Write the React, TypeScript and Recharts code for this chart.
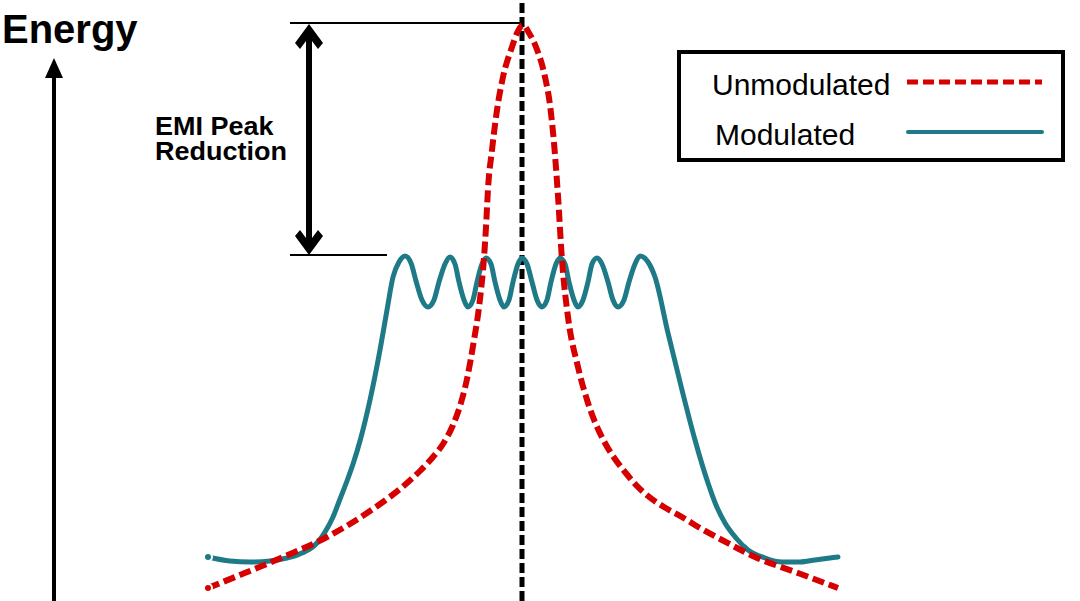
import React from 'react';
import { ComposedChart, Line, XAxis, YAxis, ReferenceLine, Legend } from 'recharts';

// frequency positions and energy readings for the unmodulated clock spectrum
const unmodFreq = [208, 240, 283, 327, 367, 407, 420, 433, 443, 453, 460, 467, 473, 480, 484, 486, 488, 492, 497, 503, 512, 517, 523, 529, 536, 545, 550, 554, 558, 562, 568, 578, 588, 605, 615, 625, 636, 648, 664, 682, 700, 722, 755, 798, 838];
const unmodEnergy = [13, 26, 44, 64, 88, 118, 130, 144, 157, 176, 195, 222, 255, 302, 343, 374, 412, 451, 491, 524, 554, 568, 576, 568, 554, 524, 496, 458, 405, 341, 284, 234, 198, 158, 142, 129, 116, 105, 94, 84, 73, 61, 44, 28, 13];

// spread-spectrum (modulated) readings
const modFreq = [208, 230, 250, 270, 287, 295, 302, 310, 317, 325, 333, 340, 347, 354, 360, 370, 380, 387, 393, 399, 405, 411, 416, 422, 428, 434, 439, 445, 450, 455, 459, 464, 468, 473, 477, 482, 486, 491, 495, 500, 504, 509, 513, 518, 522, 527, 532, 537, 542, 547, 551, 556, 560, 565, 569, 574, 578, 583, 588, 592, 597, 602, 608, 613, 618, 624, 629, 635, 640, 648, 655, 668, 682, 695, 708, 716, 725, 736, 748, 765, 782, 800, 815, 838];
const modEnergy = [44, 40, 39, 40, 43, 45, 48, 52, 58, 69, 84, 102, 120, 140, 160, 201, 251, 291, 324, 339, 345, 338, 320, 301, 294, 301, 319, 337, 344, 337, 319, 301, 294, 301, 319, 337, 343, 337, 319, 301, 294, 301, 319, 337, 343, 337, 319, 301, 294, 301, 319, 337, 343, 337, 319, 301, 294, 301, 319, 337, 343, 337, 319, 301, 294, 301, 319, 337, 345, 339, 324, 268, 211, 161, 118, 96, 78, 63, 51, 43, 39, 39, 41, 44];

const carrierFreq = 522;
const unmodPeak = 578;
const modPeak = 346;

const RED = '#d60000';
const TEAL = '#1d7a86';
const FONT = '"Liberation Sans", Arial, sans-serif';

const unmodData = unmodFreq.map((f, i) => ({ f, e: unmodEnergy[i] }));
const modData = modFreq.map((f, i) => ({ f, e: modEnergy[i] }));

const LegendBox = () => (
  <div style={{ width: 388, height: 112, border: '4px solid #000', boxSizing: 'border-box', background: '#fff' }}>
    <svg width={380} height={104} style={{ display: 'block' }}>
      <text x={31} y={41} fontFamily={FONT} fontSize={30} fill="#000">Unmodulated</text>
      <line x1={226} x2={361} y1={28} y2={28} stroke={RED} strokeWidth={5} strokeDasharray="11 5" />
      <text x={34} y={91} fontFamily={FONT} fontSize={30} fill="#000">Modulated</text>
      <line x1={227} x2={361} y1={78} y2={78} stroke={TEAL} strokeWidth={4} strokeLinecap="round" />
    </svg>
  </div>
);

const Annotations = () => (
  <svg width={1080} height={601} style={{ position: 'absolute', left: 0, top: 0, pointerEvents: 'none' }}>
    <text x={2} y={43} fontFamily={FONT} fontWeight="bold" fontSize={40} fill="#000">Energy</text>
    {/* energy axis */}
    <line x1={54} x2={54} y1={74} y2={601} stroke="#000" strokeWidth={4} />
    <polygon points="54,58 63,78 45,78" fill="#000" />
    {/* peak reduction double arrow */}
    <line x1={309} x2={309} y1={32} y2={247} stroke="#000" strokeWidth={6} />
    <polygon points="309,24 323,43 318,49 309,37 300,49 295,43" fill="#000" />
    <polygon points="309,255 323,236 318,230 309,242 300,230 295,236" fill="#000" />
    <text transform="translate(155,0) scale(1.08,1)" fontFamily={FONT} fontWeight="bold" fontSize={25} fill="#000">
      <tspan x={0} y={135}>EMI Peak</tspan>
      <tspan x={0} y={160}>Reduction</tspan>
    </text>
  </svg>
);

export default function App() {
  return (
    <div style={{ position: 'absolute', left: 0, top: 0, width: 1080, height: 601, background: '#fff' }}>
      <ComposedChart width={1080} height={601} margin={{ top: 0, right: 0, bottom: 0, left: 0 }}>
        <XAxis type="number" dataKey="f" domain={[0, 1080]} hide />
        <YAxis type="number" domain={[0, 601]} hide />
        <ReferenceLine x={carrierFreq} stroke="#000" strokeWidth={5} strokeDasharray="10 4" />
        <ReferenceLine segment={[{ x: 290, y: unmodPeak }, { x: 523, y: unmodPeak }]} stroke="#000" strokeWidth={2} />
        <ReferenceLine segment={[{ x: 290, y: modPeak }, { x: 387, y: modPeak }]} stroke="#000" strokeWidth={2} />
        <Line data={modData} dataKey="e" type="monotone" stroke={TEAL} strokeWidth={5} strokeLinecap="round" dot={false} isAnimationActive={false} name="Modulated" />
        <Line data={unmodData} dataKey="e" type="monotone" stroke={RED} strokeWidth={6} strokeDasharray="12 5" dot={false} isAnimationActive={false} name="Unmodulated" />
        <Legend
          layout="vertical"
          align="center"
          verticalAlign="middle"
          wrapperStyle={{ left: 677, top: 50, width: 388 }}
          content={() => <LegendBox />}
        />
      </ComposedChart>
      <Annotations />
    </div>
  );
}
